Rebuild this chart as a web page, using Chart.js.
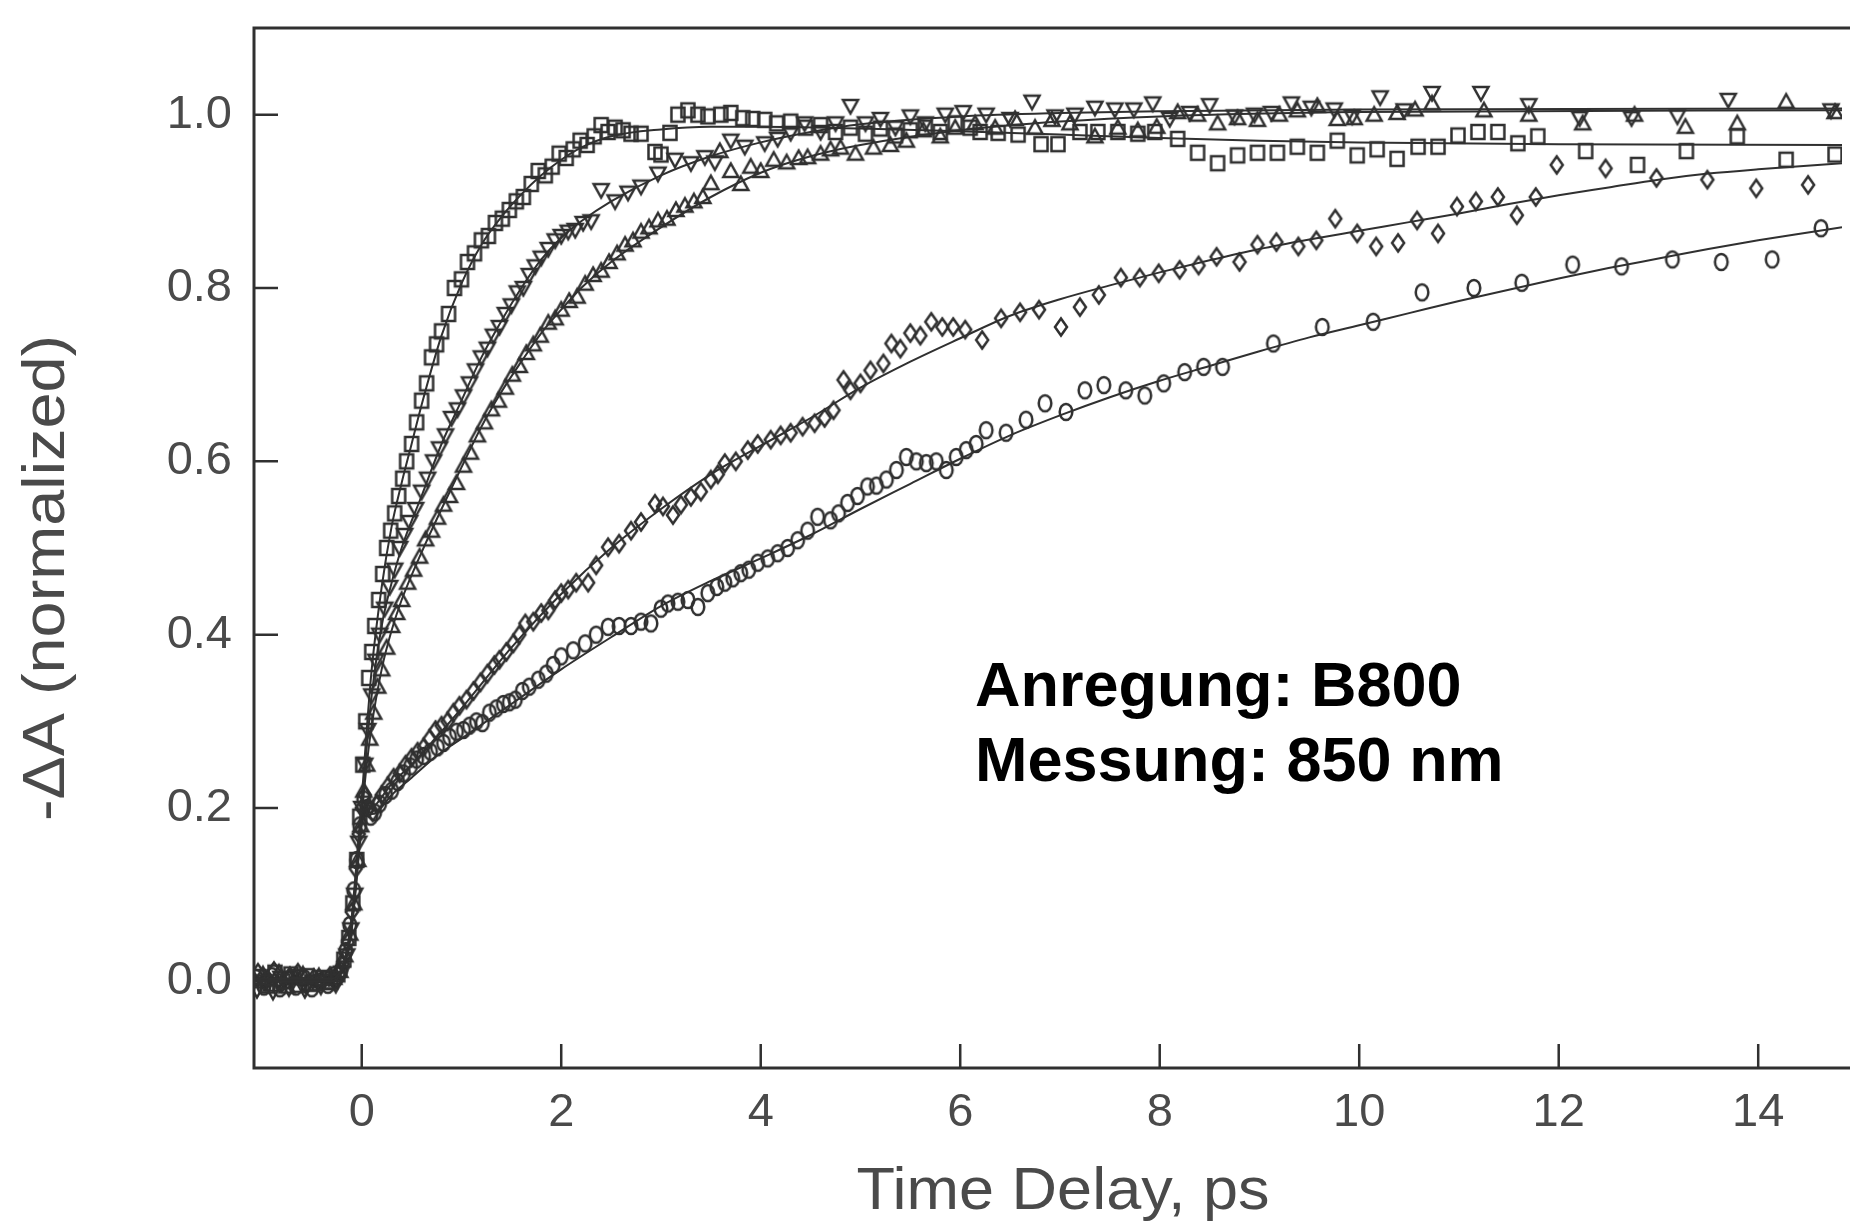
<!DOCTYPE html>
<html>
<head>
<meta charset="utf-8">
<script src="https://cdn.jsdelivr.net/npm/chart.js@4.4.1/dist/chart.umd.min.js"></script>
<style>
  html, body { margin: 0; padding: 0; background: #fff; }
  canvas { display: block; }
</style>
</head>
<body>
<canvas id="kinetics" width="1850" height="1223"></canvas>
<script>
const squares = [
  [-1.03,0.005],[-0.95,-0.005],[-0.87,0.01],[-0.79,0.0],[-0.71,0.008],[-0.63,-0.004],[-0.55,0.006],[-0.47,-0.002],[-0.39,0.004],[-0.31,0.0],[-0.24,0.008],
  [-0.18,0.025],[-0.13,0.05],[-0.09,0.09],[-0.05,0.14],[-0.02,0.19],[0.01,0.25],[0.04,0.3],[0.07,0.35],[0.1,0.38],[0.13,0.41],[0.17,0.44],[0.21,0.47],
  [0.25,0.5],[0.29,0.52],[0.33,0.54],[0.37,0.56],[0.41,0.58],[0.45,0.6],[0.5,0.62],[0.55,0.645],[0.6,0.67],[0.65,0.69],[0.7,0.72],[0.75,0.735],
  [0.8,0.75],[0.87,0.77],[0.93,0.8],[1.0,0.81],[1.06,0.83],[1.13,0.84],[1.2,0.855],[1.27,0.86],[1.34,0.875],[1.41,0.88],[1.48,0.89],[1.55,0.9],
  [1.62,0.905],[1.7,0.92],[1.77,0.935],[1.84,0.93],[1.91,0.94],[1.98,0.955],[2.05,0.95],[2.12,0.96],[2.19,0.97],[2.26,0.965],[2.33,0.975],
  [2.4,0.988],[2.47,0.98],[2.54,0.985],[2.62,0.982],[2.7,0.978],[2.8,0.978],[2.94,0.957],[3.0,0.954],[3.09,0.979],[3.17,1.0],[3.27,1.005],
  [3.37,1.0],[3.47,0.998],[3.6,1.0],[3.7,1.002],[3.82,0.996],[3.92,0.995],[4.04,0.994],[4.16,0.99],[4.3,0.992],[4.45,0.985],[4.6,0.988],
  [4.75,0.98],[4.9,0.985],[5.05,0.978],[5.2,0.984],[5.35,0.976],[5.5,0.982],[5.65,0.985],[5.8,0.98],[5.95,0.99],[6.1,0.985],[6.2,0.98],
  [6.38,0.979],[6.58,0.977],[6.81,0.966],[6.98,0.966],[7.2,0.98],[7.38,0.98],[7.58,0.98],[7.78,0.978],[7.95,0.98],[8.18,0.972],[8.38,0.956],
  [8.58,0.944],[8.78,0.953],[8.98,0.956],[9.18,0.956],[9.38,0.963],[9.58,0.956],[9.78,0.97],[9.98,0.953],[10.18,0.96],[10.38,0.949],
  [10.59,0.963],[10.79,0.963],[10.99,0.976],[11.19,0.98],[11.39,0.98],[11.59,0.967],[11.79,0.975],[12.27,0.958],[12.79,0.942],[13.28,0.958],
  [13.79,0.975],[14.28,0.948],[14.77,0.954]
];
const downTriangles = [
  [-1.05,-0.01],[-0.97,0.0],[-0.89,-0.012],[-0.81,0.004],[-0.73,-0.008],[-0.65,0.006],[-0.57,-0.01],[-0.49,0.0],[-0.41,-0.006],[-0.33,0.004],[-0.26,-0.004],
  [-0.2,0.01],[-0.15,0.03],[-0.11,0.06],[-0.07,0.1],[-0.03,0.16],[0.0,0.2],[0.03,0.25],[0.06,0.29],[0.1,0.33],[0.14,0.37],[0.18,0.4],[0.23,0.43],
  [0.28,0.455],[0.33,0.475],[0.38,0.5],[0.43,0.515],[0.48,0.53],[0.54,0.545],[0.6,0.565],[0.66,0.58],[0.72,0.6],[0.78,0.615],[0.84,0.63],
  [0.9,0.65],[0.96,0.66],[1.02,0.675],[1.08,0.69],[1.14,0.705],[1.2,0.72],[1.26,0.73],[1.32,0.745],[1.38,0.755],[1.44,0.77],[1.5,0.78],
  [1.56,0.795],[1.62,0.8],[1.68,0.815],[1.74,0.825],[1.8,0.835],[1.87,0.845],[1.94,0.855],[2.0,0.86],[2.07,0.865],[2.14,0.867],[2.22,0.875],
  [2.3,0.877],[2.4,0.913],[2.54,0.9],[2.67,0.91],[2.8,0.917],[2.97,0.932],[3.14,0.948],[3.3,0.944],[3.44,0.951],[3.54,0.945],[3.7,0.97],
  [3.84,0.963],[4.04,0.967],[4.17,0.972],[4.3,0.979],[4.44,0.99],[4.6,0.98],[4.75,0.99],[4.9,1.01],[5.05,0.99],[5.2,0.995],[5.35,0.985],
  [5.5,0.998],[5.65,0.99],[5.85,1.0],[6.03,1.003],[6.26,1.0],[6.5,0.995],[6.72,1.015],[6.95,0.998],[7.15,1.0],[7.35,1.008],[7.55,1.006],
  [7.74,1.006],[7.93,1.013],[8.1,0.995],[8.3,1.002],[8.5,1.011],[8.75,0.998],[8.95,1.0],[9.12,1.002],[9.32,1.013],[9.52,1.008],[9.75,1.006],
  [9.93,0.998],[10.21,1.02],[10.45,1.005],[10.73,1.025],[11.22,1.025],[11.7,1.011],[12.21,0.996],[12.73,0.996],[13.19,0.998],[13.7,1.017],
  [14.73,1.005]
];
const upTriangles = [
  [-1.07,0.0],[-0.99,0.008],[-0.91,-0.004],[-0.83,0.01],[-0.75,-0.006],[-0.67,0.004],[-0.59,0.008],[-0.51,-0.004],[-0.43,0.006],[-0.35,-0.002],[-0.28,0.004],
  [-0.22,0.012],[-0.17,0.03],[-0.12,0.055],[-0.08,0.09],[-0.04,0.14],[-0.01,0.18],[0.02,0.22],[0.05,0.25],[0.08,0.28],[0.12,0.31],[0.16,0.34],
  [0.2,0.36],[0.25,0.385],[0.3,0.41],[0.35,0.425],[0.4,0.44],[0.46,0.46],[0.52,0.475],[0.58,0.49],[0.64,0.51],[0.7,0.52],[0.76,0.535],
  [0.82,0.55],[0.88,0.56],[0.95,0.575],[1.02,0.595],[1.09,0.61],[1.16,0.63],[1.23,0.645],[1.3,0.66],[1.37,0.67],[1.44,0.685],[1.51,0.7],
  [1.58,0.71],[1.65,0.725],[1.72,0.735],[1.79,0.745],[1.87,0.76],[1.94,0.765],[2.0,0.775],[2.08,0.785],[2.16,0.79],[2.24,0.805],[2.32,0.815],
  [2.4,0.82],[2.48,0.83],[2.56,0.84],[2.64,0.85],[2.72,0.855],[2.8,0.865],[2.88,0.87],[2.97,0.878],[3.06,0.88],[3.15,0.89],[3.24,0.895],
  [3.33,0.9],[3.42,0.905],[3.5,0.921],[3.59,0.958],[3.7,0.935],[3.8,0.92],[3.9,0.94],[4.0,0.935],[4.13,0.948],[4.26,0.945],[4.38,0.95],
  [4.47,0.951],[4.6,0.955],[4.7,0.96],[4.8,0.962],[4.95,0.955],[5.13,0.962],[5.3,0.965],[5.46,0.97],[5.63,0.982],[5.8,0.975],[5.95,0.985],
  [6.15,0.99],[6.35,0.985],[6.55,0.995],[6.75,0.985],[6.92,0.994],[7.1,0.99],[7.35,0.975],[7.58,0.985],[7.78,0.982],[7.97,0.986],[8.18,1.003],
  [8.38,1.0],[8.58,0.99],[8.78,0.996],[8.98,0.994],[9.2,1.0],[9.38,1.005],[9.58,1.01],[9.78,0.995],[9.95,0.996],[10.15,1.0],[10.38,1.002],
  [10.56,1.006],[10.73,1.013],[11.25,1.005],[11.7,1.0],[12.24,0.99],[12.76,1.0],[13.27,0.986],[13.79,0.99],[14.28,1.015],[14.77,1.003]
];
const diamonds = [
  [-1.04,0.01],[-0.96,0.0],[-0.88,0.012],[-0.8,-0.002],[-0.72,0.006],[-0.64,0.01],[-0.56,-0.004],[-0.48,0.004],[-0.4,0.0],[-0.32,0.006],[-0.25,0.002],
  [-0.19,0.02],[-0.14,0.045],[-0.1,0.08],[-0.06,0.13],[-0.03,0.17],[0.0,0.2],[0.03,0.215],[0.07,0.2],[0.11,0.195],[0.15,0.205],[0.2,0.215],
  [0.26,0.225],[0.32,0.235],[0.38,0.24],[0.44,0.25],[0.5,0.258],[0.56,0.265],[0.62,0.27],[0.68,0.28],[0.74,0.29],[0.8,0.295],[0.86,0.3],
  [0.92,0.31],[0.98,0.318],[1.05,0.325],[1.12,0.335],[1.19,0.345],[1.26,0.355],[1.33,0.365],[1.38,0.371],[1.45,0.38],[1.52,0.39],[1.58,0.4],
  [1.64,0.413],[1.72,0.415],[1.8,0.425],[1.87,0.428],[1.94,0.44],[2.0,0.448],[2.07,0.452],[2.15,0.46],[2.27,0.46],[2.35,0.48],[2.47,0.501],
  [2.58,0.505],[2.7,0.52],[2.8,0.53],[2.94,0.551],[3.02,0.548],[3.12,0.538],[3.2,0.55],[3.3,0.559],[3.4,0.565],[3.5,0.579],[3.57,0.585],
  [3.64,0.598],[3.75,0.6],[3.87,0.613],[3.97,0.62],[4.1,0.625],[4.2,0.63],[4.3,0.633],[4.42,0.64],[4.54,0.644],[4.64,0.65],[4.73,0.659],
  [4.83,0.694],[4.9,0.682],[5.0,0.69],[5.1,0.705],[5.23,0.713],[5.31,0.736],[5.4,0.73],[5.5,0.748],[5.6,0.745],[5.71,0.761],[5.82,0.755],
  [5.93,0.755],[6.05,0.752],[6.22,0.74],[6.41,0.765],[6.6,0.772],[6.79,0.775],[7.01,0.755],[7.2,0.778],[7.39,0.792],[7.61,0.812],[7.8,0.812],
  [7.99,0.817],[8.2,0.821],[8.39,0.826],[8.57,0.836],[8.8,0.83],[8.98,0.85],[9.17,0.853],[9.39,0.848],[9.57,0.855],[9.76,0.88],[9.98,0.863],
  [10.17,0.848],[10.39,0.852],[10.58,0.878],[10.79,0.863],[10.98,0.894],[11.17,0.9],[11.39,0.905],[11.58,0.884],[11.77,0.905],[11.98,0.942],
  [12.47,0.938],[12.98,0.927],[13.49,0.925],[13.98,0.915],[14.5,0.919]
];
const circles = [
  [-1.06,0.004],[-0.98,-0.006],[-0.9,0.006],[-0.82,-0.008],[-0.74,0.002],[-0.66,-0.006],[-0.58,0.004],[-0.5,-0.008],[-0.42,0.0],[-0.34,-0.004],[-0.27,0.003],
  [-0.21,0.012],[-0.16,0.035],[-0.12,0.065],[-0.08,0.105],[-0.05,0.14],[-0.02,0.18],[0.02,0.21],[0.05,0.2],[0.09,0.19],[0.13,0.195],[0.18,0.205],
  [0.24,0.215],[0.3,0.22],[0.36,0.23],[0.42,0.24],[0.49,0.248],[0.55,0.256],[0.62,0.26],[0.69,0.265],[0.76,0.27],[0.82,0.275],[0.88,0.282],
  [0.95,0.288],[1.02,0.29],[1.08,0.295],[1.15,0.3],[1.21,0.298],[1.28,0.31],[1.35,0.315],[1.42,0.32],[1.48,0.322],[1.54,0.325],[1.61,0.335],
  [1.68,0.34],[1.77,0.348],[1.85,0.355],[1.92,0.365],[2.0,0.375],[2.12,0.382],[2.24,0.39],[2.35,0.4],[2.47,0.409],[2.58,0.41],[2.7,0.41],
  [2.8,0.415],[2.9,0.413],[3.0,0.43],[3.07,0.436],[3.17,0.438],[3.27,0.44],[3.37,0.432],[3.47,0.448],[3.56,0.455],[3.64,0.46],[3.72,0.465],
  [3.8,0.471],[3.88,0.475],[3.97,0.483],[4.07,0.488],[4.17,0.494],[4.27,0.5],[4.37,0.509],[4.47,0.52],[4.57,0.536],[4.7,0.532],[4.78,0.54],
  [4.87,0.552],[4.97,0.56],[5.07,0.571],[5.16,0.572],[5.26,0.579],[5.36,0.59],[5.46,0.605],[5.56,0.6],[5.66,0.598],[5.76,0.6],[5.86,0.59],
  [5.96,0.605],[6.06,0.613],[6.16,0.62],[6.26,0.636],[6.46,0.633],[6.66,0.648],[6.85,0.667],[7.06,0.657],[7.25,0.682],[7.44,0.688],[7.66,0.682],
  [7.85,0.676],[8.04,0.69],[8.25,0.703],[8.44,0.709],[8.63,0.709],[9.14,0.736],[9.63,0.755],[10.14,0.761],[10.63,0.795],[11.15,0.8],[11.63,0.806],
  [12.14,0.827],[12.63,0.825],[13.14,0.833],[13.63,0.83],[14.14,0.833],[14.63,0.869]
];

// fitted curves
const squaresFit = [[-1.08,0.003],[-0.3,0.003],[-0.2,0.015],[-0.15,0.035],[-0.1,0.075],[-0.05,0.14],[0,0.21],[0.05,0.29],[0.1,0.36],[0.2,0.455],[0.3,0.525],[0.4,0.575],[0.5,0.62],[0.6,0.665],[0.8,0.745],[1.0,0.805],[1.2,0.85],[1.4,0.882],[1.6,0.908],[1.8,0.93],[2.0,0.948],[2.2,0.962],[2.5,0.975],[3.0,0.983],[3.5,0.986],[4.0,0.986],[5.0,0.984],[6.0,0.981],[7.0,0.977],[8.0,0.973],[9.0,0.97],[10.0,0.968],[12.0,0.966],[14.84,0.965]];
const downFit = [[-1.08,0.0],[-0.3,0.0],[-0.2,0.012],[-0.15,0.03],[-0.1,0.065],[-0.05,0.13],[0,0.2],[0.05,0.27],[0.1,0.33],[0.2,0.41],[0.3,0.46],[0.4,0.5],[0.6,0.56],[0.8,0.62],[1.0,0.67],[1.2,0.72],[1.4,0.762],[1.6,0.8],[1.8,0.833],[2.0,0.858],[2.2,0.877],[2.5,0.9],[3.0,0.93],[3.5,0.952],[4.0,0.968],[4.5,0.98],[5.0,0.989],[6.0,0.998],[7.0,1.002],[8.0,1.004],[10.0,1.006],[14.84,1.007]];
const upFit = [[-1.08,0.0],[-0.3,0.0],[-0.2,0.01],[-0.15,0.028],[-0.1,0.06],[-0.05,0.12],[0,0.19],[0.05,0.25],[0.1,0.295],[0.2,0.36],[0.3,0.405],[0.4,0.44],[0.6,0.495],[0.8,0.545],[1.0,0.593],[1.2,0.64],[1.4,0.68],[1.6,0.715],[1.8,0.748],[2.0,0.775],[2.2,0.8],[2.5,0.83],[3.0,0.87],[3.5,0.905],[4.0,0.933],[4.5,0.952],[5.0,0.965],[6.0,0.982],[7.0,0.992],[8.0,0.998],[10.0,1.003],[14.84,1.005]];
const diamondsFit = [[-1.08,0.003],[-0.3,0.003],[-0.2,0.015],[-0.15,0.035],[-0.1,0.07],[-0.05,0.125],[0,0.185],[0.05,0.205],[0.1,0.2],[0.15,0.205],[0.3,0.228],[0.5,0.25],[1.0,0.315],[1.5,0.385],[2.0,0.447],[2.5,0.5],[3.0,0.545],[3.5,0.585],[4.0,0.618],[4.5,0.65],[5.0,0.685],[5.5,0.715],[6.0,0.742],[6.5,0.768],[7.0,0.787],[7.5,0.803],[8.0,0.818],[8.5,0.832],[9.0,0.845],[9.5,0.856],[10.0,0.866],[10.5,0.876],[11.0,0.886],[11.5,0.897],[12.0,0.907],[12.5,0.916],[13.0,0.925],[13.5,0.932],[14.0,0.937],[14.84,0.944]];
const circlesFit = [[-1.08,0.0],[-0.3,0.0],[-0.2,0.012],[-0.15,0.03],[-0.1,0.065],[-0.05,0.12],[0,0.18],[0.05,0.2],[0.1,0.193],[0.15,0.195],[0.3,0.215],[0.5,0.235],[0.75,0.26],[1.0,0.28],[1.5,0.32],[2.0,0.36],[2.5,0.397],[3.0,0.433],[3.5,0.462],[4.0,0.488],[4.5,0.515],[5.0,0.545],[5.5,0.574],[6.0,0.603],[6.5,0.63],[7.0,0.653],[7.5,0.674],[8.0,0.693],[8.5,0.71],[9.0,0.727],[9.5,0.743],[10.0,0.757],[10.5,0.771],[11.0,0.785],[11.5,0.798],[12.0,0.811],[12.5,0.823],[13.0,0.834],[13.5,0.845],[14.0,0.855],[14.5,0.864],[14.84,0.87]];

const xTicks = [0, 2, 4, 6, 8, 10, 12, 14];
const yTicks = [0.0, 0.2, 0.4, 0.6, 0.8, 1.0];
const xTitle = "Time Delay, ps";
const yTitle = "-\u0394A (normalized)";
const noteLines = ["Anregung: B800", "Messung: 850 nm"];

const ink = "#303030";
const labelColor = "#4a4a4a";
const sans = "'Liberation Sans', Arial, Helvetica, sans-serif";

// hollow scan-like markers
function makeMarker(shape) {
  const c = document.createElement("canvas");
  c.width = 24; c.height = 24;
  const g = c.getContext("2d");
  g.translate(12, 12);
  g.strokeStyle = ink;
  g.lineWidth = 2.5;
  g.beginPath();
  if (shape === "square") {
    g.rect(-6.5, -7, 13, 14);
  } else if (shape === "diamond") {
    g.moveTo(0, -8.5); g.lineTo(6, 0); g.lineTo(0, 8.5); g.lineTo(-6, 0); g.closePath();
  } else if (shape === "circle") {
    g.ellipse(0, 0, 6.3, 8, 0, 0, Math.PI * 2);
  } else if (shape === "up") {
    g.moveTo(0, -7.5); g.lineTo(7.5, 6); g.lineTo(-7.5, 6); g.closePath();
  } else {
    g.moveTo(0, 7.5); g.lineTo(7.5, -6); g.lineTo(-7.5, -6); g.closePath();
  }
  g.stroke();
  return c;
}

const toXY = arr => arr.map(([x, y]) => ({x, y}));

function pointSet(arr, shape) {
  return {
    data: toXY(arr),
    showLine: false,
    pointStyle: makeMarker(shape),
    pointRadius: 7,
    pointHoverRadius: 7
  };
}
function fitSet(arr) {
  return {
    data: toXY(arr),
    showLine: true,
    borderColor: ink,
    borderWidth: 2,
    pointRadius: 0,
    cubicInterpolationMode: "monotone",
    fill: false
  };
}

const framePlugin = {
  id: "frame",
  afterDraw(chart) {
    const {ctx, chartArea: a, scales: {x, y}} = chart;
    const right = chart.width;
    ctx.save();
    ctx.strokeStyle = ink;
    ctx.lineWidth = 3;
    ctx.beginPath();
    ctx.moveTo(right, a.top);
    ctx.lineTo(a.left, a.top);
    ctx.lineTo(a.left, a.bottom);
    ctx.lineTo(right, a.bottom);
    ctx.stroke();

    ctx.lineWidth = 2.5;
    ctx.beginPath();
    xTicks.forEach(v => {
      const px = x.getPixelForValue(v);
      ctx.moveTo(px, a.bottom);
      ctx.lineTo(px, a.bottom - 24);
    });
    yTicks.forEach(v => {
      const py = y.getPixelForValue(v);
      ctx.moveTo(a.left, py);
      ctx.lineTo(a.left + 24, py);
    });
    ctx.stroke();

    // axis titles
    ctx.fillStyle = labelColor;
    ctx.textAlign = "center";
    ctx.textBaseline = "middle";
    ctx.font = "60px " + sans;
    ctx.save();
    ctx.translate(1063, 1192);
    ctx.scale(1.05, 1);
    ctx.fillText(xTitle, 0, 0);
    ctx.restore();

    ctx.save();
    ctx.translate(47, 578);
    ctx.rotate(-Math.PI / 2);
    ctx.scale(1.08, 1);
    ctx.fillText(yTitle, 0, 0);
    ctx.restore();

    // annotation
    ctx.fillStyle = "#000";
    ctx.textAlign = "left";
    ctx.textBaseline = "alphabetic";
    ctx.font = "bold 63px " + sans;
    ctx.fillText(noteLines[0], 975, 706);
    ctx.fillText(noteLines[1], 975, 781);
    ctx.restore();
  }
};

const tickFont = {family: sans, size: 47};

new Chart(document.getElementById("kinetics"), {
  type: "scatter",
  data: {
    datasets: [
      fitSet(squaresFit), fitSet(downFit), fitSet(upFit), fitSet(diamondsFit), fitSet(circlesFit),
      pointSet(squares, "square"), pointSet(downTriangles, "down"), pointSet(upTriangles, "up"),
      pointSet(diamonds, "diamond"), pointSet(circles, "circle")
    ]
  },
  options: {
    responsive: false,
    animation: false,
    devicePixelRatio: 1,
    layout: {padding: {top: 28, right: 0, left: 0, bottom: 0}},
    plugins: {legend: {display: false}, tooltip: {enabled: false}},
    scales: {
      x: {
        type: "linear",
        min: -1.08,
        max: 14.84,
        grid: {display: false, drawTicks: false},
        border: {display: false},
        afterBuildTicks: s => { s.ticks = xTicks.map(v => ({value: v})); },
        afterFit: s => { s.height = 155; s.paddingLeft = 0; s.paddingRight = 0; },
        ticks: {font: tickFont, color: labelColor, padding: 17, maxRotation: 0, autoSkip: false,
                callback: v => String(v)}
      },
      y: {
        type: "linear",
        min: -0.1,
        max: 1.1,
        grid: {display: false, drawTicks: false},
        border: {display: false},
        afterBuildTicks: s => { s.ticks = yTicks.map(v => ({value: v})); },
        afterFit: s => { s.width = 254; s.paddingTop = 0; s.paddingBottom = 0; },
        ticks: {font: tickFont, color: labelColor, padding: 22, autoSkip: false,
                callback: v => Number(v).toFixed(1)}
      }
    }
  },
  plugins: [framePlugin]
});
</script>
</body>
</html>
